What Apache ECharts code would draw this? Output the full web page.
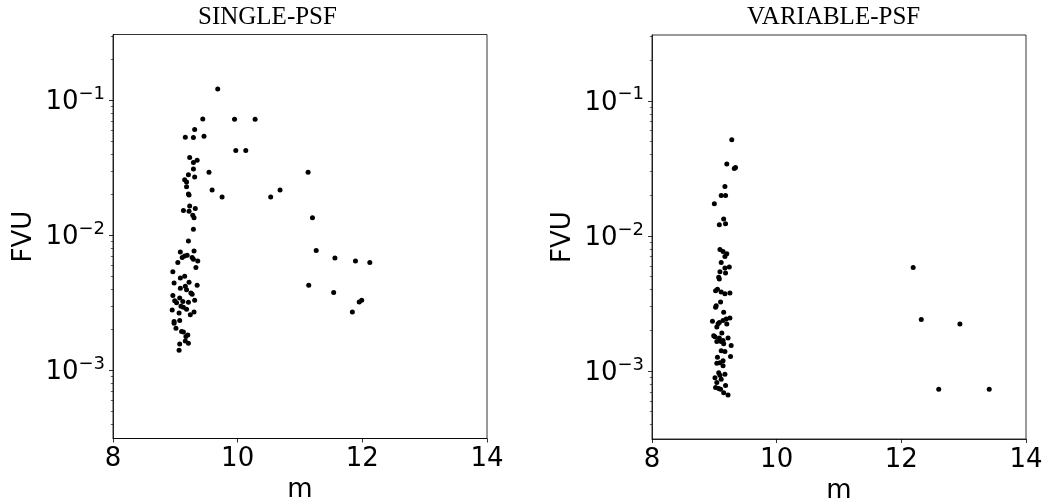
<!DOCTYPE html>
<html>
<head>
<meta charset="utf-8">
<script src="https://cdn.jsdelivr.net/npm/echarts@6/dist/echarts.min.js"></script>
<style>html,body{margin:0;padding:0;background:#fff}#c{width:1044px;height:502px}</style>
</head>
<body>
<div id="c"></div>
<script>
var singleM = [9.68,9.44,9.95,10.28,9.31,9.16,9.29,9.46,9.97,10.13,9.23,9.29,9.35,9.29,9.54,11.13,9.21,9.31,9.15,9.18,9.18,9.21,9.22,9.59,9.75,10.53,10.68,9.23,9.13,9.22,9.32,9.28,9.30,11.2,9.29,9.21,9.08,9.30,9.19,9.15,9.11,9.27,9.29,9.36,9.04,11.26,11.56,11.89,12.12,9.33,8.96,9.08,9.15,8.98,9.22,9.16,9.08,9.18,9.35,9.25,9.27,8.96,9.07,8.99,9.02,9.31,9.12,9.21,9.09,9.13,9.18,8.95,9.06,9.30,9.24,9.07,8.98,8.98,9.01,9.10,9.13,9.20,9.17,9.16,9.21,9.07,9.06,11.14,11.54,11.84,11.95,11.99];
var singleFVU = [0.121,0.0726,0.0723,0.0723,0.0607,0.0532,0.053,0.0541,0.0424,0.0424,0.0377,0.0346,0.0359,0.031,0.0293,0.0293,0.0281,0.027,0.0258,0.0248,0.0229,0.0202,0.0199,0.0217,0.0192,0.0192,0.0217,0.0165,0.0153,0.0151,0.0158,0.0141,0.0135,0.0135,0.0111,0.00908,0.00752,0.00766,0.00711,0.00703,0.00684,0.00684,0.00664,0.00645,0.00628,0.00771,0.0068,0.00645,0.00628,0.00577,0.00538,0.00483,0.00497,0.00443,0.00449,0.00419,0.00405,0.00396,0.00427,0.00374,0.00366,0.00359,0.00343,0.00328,0.00317,0.0033,0.00323,0.00319,0.00298,0.00294,0.00284,0.0028,0.00266,0.0027,0.00258,0.00234,0.0023,0.00223,0.00205,0.00194,0.00192,0.00183,0.00178,0.00165,0.00159,0.00157,0.00141,0.00427,0.00378,0.0027,0.00321,0.0033];
var variableM = [9.28,9.20,9.32,9.34,9.17,9.11,9.18,9.00,9.15,9.08,9.18,9.09,9.14,9.20,9.17,9.11,9.24,9.17,9.09,9.18,9.07,9.08,12.19,9.05,9.02,9.11,9.17,9.25,9.10,9.03,9.02,9.15,8.97,9.06,9.08,9.04,9.14,9.19,9.25,9.20,12.32,12.94,9.12,9.01,8.99,9.08,9.22,9.04,9.11,9.15,9.14,9.27,9.11,9.17,9.26,9.05,9.14,9.04,9.09,9.14,9.07,9.09,9.17,9.11,9.01,9.04,9.18,9.02,9.07,9.10,9.15,9.22,12.60,13.41];
var variableFVU = [0.0514,0.034,0.0315,0.0321,0.0232,0.0199,0.0199,0.0173,0.0133,0.0121,0.0123,0.00792,0.00766,0.00736,0.00703,0.00634,0.00589,0.00579,0.00541,0.0053,0.00494,0.00478,0.00582,0.00403,0.00392,0.00383,0.00372,0.00378,0.00323,0.00303,0.00296,0.00272,0.00233,0.00223,0.00228,0.00211,0.00236,0.00242,0.00246,0.00222,0.0024,0.00222,0.00191,0.00179,0.00182,0.00175,0.00175,0.00165,0.00165,0.00159,0.00168,0.00154,0.00141,0.00139,0.00128,0.00126,0.00119,0.00114,0.00115,0.00109,0.00097,0.00093,0.000946,0.000868,0.000891,0.000819,0.000778,0.000752,0.00074,0.000732,0.00069,0.000664,0.000732,0.000732];
var titles = ['SINGLE-PSF', 'VARIABLE-PSF'];
var xTicks = [8, 10, 12, 14];
var yMajor = [0.001, 0.01, 0.1];
var yMinor = [0.0004,0.0005,0.0006,0.0007,0.0008,0.0009,0.002,0.003,0.004,0.005,0.006,0.007,0.008,0.009,0.02,0.03,0.04,0.05,0.06,0.07,0.08,0.09,0.2,0.3];
var yMin = 3.13e-4, yMax = 0.307;

function pairs(a, b){ return a.map(function(v,i){ return [v, b[i]]; }); }
var FONT = 'DejaVu Sans';
var grids = [
  {left:113, top:34.5, width:374, height:404},
  {left:652, top:35, width:374, height:404}
];
var xAxes = [], yAxes = [];
grids.forEach(function(g, i){
  xAxes.push({
    gridIndex:i, type:'value', min:8, max:14, interval:2,
    axisLine:{show:true, lineStyle:{color:'#000', width:0.8}},
    axisTick:{show:true, inside:false, length:4, lineStyle:{color:'#000', width:0.8}},
    axisLabel:{show:true, fontSize:26, fontFamily:FONT, color:'#000', margin:8},
    splitLine:{show:false},
    name:'m', nameLocation:'middle', nameGap:32,
    nameTextStyle:{fontSize:26, fontFamily:FONT, color:'#000'}
  });
  yAxes.push({
    gridIndex:i, type:'log', logBase:10, min:yMin, max:yMax, position:'left',
    axisLine:{show:true, lineStyle:{color:'#000', width:0.8}},
    axisTick:{show:true, inside:false, length:4, customValues:yMajor, lineStyle:{color:'#000', width:0.8}},
    axisLabel:{show:true, customValues:yMajor, margin:8, color:'#000',
      formatter:function(v){
        var e = Math.round(Math.log10(v));
        return '{b|10}{s|\u2212' + Math.abs(e) + '}';
      },
      rich:{
        b:{fontSize:26, fontFamily:FONT, color:'#000', verticalAlign:'bottom', lineHeight:30},
        s:{fontSize:18, fontFamily:FONT, color:'#000', verticalAlign:'top', lineHeight:30}
      }
    },
    splitLine:{show:false},
    name:'FVU', nameLocation:'middle', nameGap:76, nameRotate:90,
    nameTextStyle:{fontSize:26, fontFamily:FONT, color:'#000'}
  });
  yAxes.push({
    gridIndex:i, type:'log', logBase:10, min:yMin, max:yMax, position:'left', offset:0,
    axisLine:{show:false, onZero:false},
    axisTick:{show:true, inside:false, length:2.2, customValues:yMinor, lineStyle:{color:'#000', width:0.6}},
    axisLabel:{show:false},
    splitLine:{show:false}
  });
});

var option = {
  animation:false,
  backgroundColor:'#fff',
  title: [
    {text:titles[0], left:193, top:0, textStyle:{fontFamily:'Liberation Serif', fontWeight:'normal', fontSize:25, color:'#000'}},
    {text:titles[1], left:742, top:0, textStyle:{fontFamily:'Liberation Serif', fontWeight:'normal', fontSize:25, color:'#000'}}
  ],
  grid: grids.map(function(g){ return Object.assign({show:true, borderColor:'#000', borderWidth:0.8, backgroundColor:'transparent', containLabel:false, outerBoundsMode:'none'}, g); }),
  xAxis: xAxes,
  yAxis: yAxes,
  series: [
    {type:'scatter', xAxisIndex:0, yAxisIndex:0, data:pairs(singleM, singleFVU), symbolSize:5, itemStyle:{color:'#000', opacity:1}},
    {type:'scatter', xAxisIndex:1, yAxisIndex:2, data:pairs(variableM, variableFVU), symbolSize:5, itemStyle:{color:'#000', opacity:1}}
  ]
};
var chart = echarts.init(document.getElementById('c'), null, {renderer:'canvas'});
chart.setOption(option);
</script>
</body>
</html>
